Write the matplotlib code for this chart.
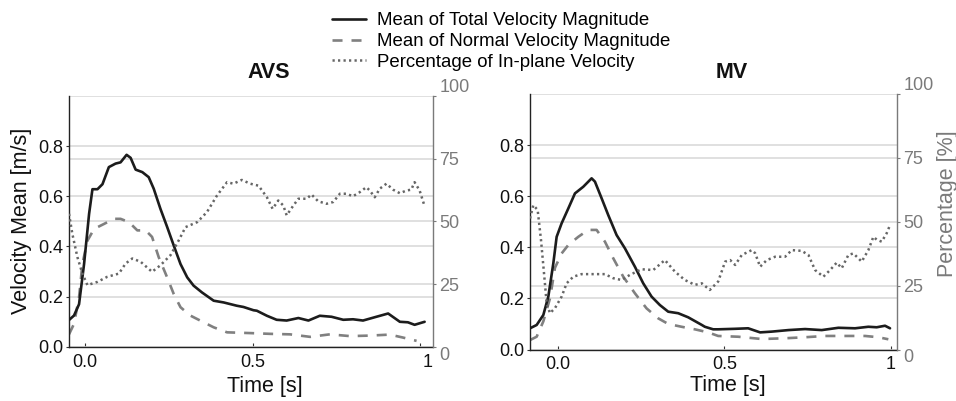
import matplotlib
matplotlib.use("Agg")
import matplotlib.pyplot as plt
import matplotlib.transforms as mtransforms

plt.rcParams['font.family'] = ['Liberation Sans', 'DejaVu Sans']

# ---------------- data ----------------
panel_titles = ["AVS", "MV"]
legend_labels = ["Mean of Total Velocity Magnitude",
                 "Mean of Normal Velocity Magnitude",
                 "Percentage of In-plane Velocity"]
x_ticks = [0.0, 0.5, 1.0]
x_tick_labels = ["0.0", "0.5", "1"]
vel_ticks = [0.0, 0.2, 0.4, 0.6, 0.8]
vel_tick_labels = ["0.0", "0.2", "0.4", "0.6", "0.8"]
pct_ticks = [0, 25, 50, 75, 100]
pct_tick_labels = ["0", "25", "50", "75", "100"]

# AVS
avs_total_t = [-0.048, -0.033, -0.018, -0.003, 0.012, 0.022, 0.037, 0.052, 0.071, 0.091,
               0.106, 0.124, 0.136, 0.151, 0.171, 0.19, 0.205, 0.225, 0.245, 0.265,
               0.285, 0.305, 0.324, 0.349, 0.384, 0.414, 0.453, 0.473, 0.503, 0.513,
               0.543, 0.572, 0.602, 0.637, 0.667, 0.701, 0.736, 0.771, 0.80, 0.83,
               0.87, 0.905, 0.94, 0.964, 0.984, 1.014]
avs_total_v = [0.107, 0.125, 0.17, 0.33, 0.53, 0.628, 0.628, 0.648, 0.716, 0.73,
               0.735, 0.765, 0.753, 0.706, 0.696, 0.676, 0.63, 0.55, 0.478, 0.403,
               0.33, 0.277, 0.244, 0.217, 0.184, 0.177, 0.164, 0.159, 0.146, 0.144,
               0.124, 0.108, 0.105, 0.115, 0.105, 0.124, 0.12, 0.108, 0.11, 0.105,
               0.12, 0.133, 0.10, 0.098, 0.088, 0.10]

avs_normal_t = [-0.048, -0.033, -0.018, -0.008, 0.007, 0.027, 0.057, 0.086, 0.106, 0.131,
                0.156, 0.181, 0.20, 0.22, 0.245, 0.265, 0.285, 0.314, 0.354, 0.384,
                0.424, 0.493, 0.552, 0.612, 0.672, 0.731, 0.791, 0.85, 0.91, 0.95, 0.99]
avs_normal_v = [0.05, 0.092, 0.198, 0.33, 0.423, 0.47, 0.49, 0.51, 0.51, 0.497,
                0.464, 0.464, 0.438, 0.357, 0.277, 0.21, 0.158, 0.125, 0.098, 0.078,
                0.058, 0.055, 0.052, 0.05, 0.04, 0.05, 0.043, 0.045, 0.049, 0.037, 0.024]

avs_pct_t = [-0.048, -0.038, -0.023, -0.008, 0.007, 0.037, 0.066, 0.101, 0.121, 0.141,
             0.166, 0.20, 0.225, 0.255, 0.28, 0.30, 0.335, 0.364, 0.394, 0.424,
             0.443, 0.468, 0.493, 0.518, 0.543, 0.56, 0.577, 0.592, 0.602, 0.622,
             0.637, 0.662, 0.676, 0.696, 0.721, 0.741, 0.761, 0.78, 0.80, 0.82,
             0.84, 0.85, 0.865, 0.88, 0.90, 0.92, 0.94, 0.96, 0.974, 0.984, 0.999, 1.014]
avs_pct_p = [53, 45, 35.8, 29.2, 24.6, 25.9, 27.9, 29.2, 33.2, 35.2,
             33.9, 29.9, 32.5, 36.5, 42.5, 47.7, 49.7, 53.7, 60.3, 65.6,
             65, 66.5, 65, 64.2, 59.6, 55, 58.3, 56.3, 52.4, 56.3,
             59, 59, 60.7, 58, 57, 57.7, 61, 61, 60, 61.6,
             63.6, 62.3, 59.6, 63, 65, 62.6, 61.2, 62.3, 62.6, 65.6, 62.3, 56]

# MV
mv_total_t = [-0.084, -0.064, -0.044, -0.029, -0.014, -0.004, 0.011, 0.031, 0.051, 0.076,
              0.101, 0.111, 0.131, 0.151, 0.176, 0.201, 0.231, 0.256, 0.281, 0.306,
              0.331, 0.361, 0.391, 0.432, 0.441, 0.466, 0.481, 0.532, 0.571, 0.607,
              0.642, 0.692, 0.742, 0.792, 0.842, 0.892, 0.932, 0.957, 0.982, 0.997]
mv_total_v = [0.083, 0.096, 0.135, 0.207, 0.337, 0.441, 0.494, 0.552, 0.611, 0.637,
              0.67, 0.657, 0.592, 0.526, 0.448, 0.396, 0.324, 0.259, 0.207, 0.174,
              0.148, 0.142, 0.126, 0.096, 0.089, 0.079, 0.079, 0.081, 0.083, 0.067,
              0.07, 0.076, 0.08, 0.076, 0.085, 0.083, 0.089, 0.087, 0.093, 0.083]

mv_normal_t = [-0.084, -0.064, -0.044, -0.024, -0.009, 0.011, 0.031, 0.061, 0.091, 0.116,
               0.141, 0.166, 0.196, 0.231, 0.266, 0.301, 0.331, 0.371, 0.411, 0.451,
               0.481, 0.541, 0.612, 0.682, 0.742, 0.802, 0.862, 0.922, 0.962, 0.992]
mv_normal_v = [0.037, 0.05, 0.11, 0.2, 0.32, 0.376, 0.409, 0.441, 0.468, 0.468,
               0.422, 0.357, 0.285, 0.22, 0.161, 0.122, 0.10, 0.089, 0.079, 0.067,
               0.053, 0.05, 0.041, 0.044, 0.048, 0.053, 0.053, 0.053, 0.048, 0.04]

mv_pct_t = [-0.084, -0.074, -0.061, -0.051, -0.041, -0.034, -0.024, -0.009, 0.011, 0.026,
            0.046, 0.071, 0.111, 0.141, 0.166, 0.191, 0.216, 0.251, 0.286, 0.321,
            0.351, 0.381, 0.411, 0.432, 0.456, 0.481, 0.502, 0.517, 0.532, 0.552,
            0.582, 0.592, 0.607, 0.627, 0.652, 0.682, 0.702, 0.732, 0.752, 0.772,
            0.797, 0.817, 0.837, 0.852, 0.872, 0.887, 0.912, 0.932, 0.947, 0.957,
            0.972, 0.987, 0.997]
mv_pct_p = [51.3, 56.5, 54.6, 42.9, 28.5, 18.1, 14.2, 16.2, 20.7, 25.9,
            28.5, 29.5, 29.5, 29.5, 27.9, 27.2, 29.2, 31.4, 31.1, 35,
            30.5, 27.2, 25.3, 25.9, 23.3, 26.6, 34.4, 35, 33.1, 37,
            38.9, 37.7, 32.4, 35, 36.3, 36.3, 38.9, 38.6, 37, 31.1,
            28.5, 31.1, 34, 31.8, 37, 37.6, 34.4, 38.9, 44.1, 43,
            42.2, 45.5, 48.7]

panels = [
    dict(title=panel_titles[0], tot=(avs_total_t, avs_total_v), nor=(avs_normal_t, avs_normal_v),
         pct=(avs_pct_t, avs_pct_p), xlim=(-0.048, 1.039),
         pos=[69/956, 1 - 346.9/401, 364/956, 251.1/401]),
    dict(title=panel_titles[1], tot=(mv_total_t, mv_total_v), nor=(mv_normal_t, mv_normal_v),
         pct=(mv_pct_t, mv_pct_p), xlim=(-0.084, 1.018),
         pos=[530/956, 1 - 349.5/401, 367/956, 255.5/401]),
]

# ---------------- styles ----------------
c_total = '#1c1c1c'
c_normal = '#808080'
c_pct = '#666666'
c_right = '#7a7a7a'
c_grid = '#dadada'
tick_fs = 13
label_fs = 15.5

fig = plt.figure(figsize=(9.56, 4.01), dpi=100)

for i, pnl in enumerate(panels):
    ax = fig.add_axes(pnl['pos'])
    ax.set_xlim(*pnl['xlim'])
    ax.set_ylim(0, 1.0)
    l1, = ax.plot(*pnl['tot'], color=c_total, lw=1.9, solid_capstyle='round', zorder=3)
    l2, = ax.plot(*pnl['nor'], color=c_normal, lw=1.9, dashes=(3.8, 3.4), zorder=2)

    ax.set_yticks(vel_ticks)
    ax.set_yticklabels(vel_tick_labels, fontsize=tick_fs, color='#111111')
    ax.set_yticks([0.25, 0.5, 0.75, 1.0], minor=True)
    ax.grid(axis='y', which='both', color=c_grid, lw=1.2, zorder=0)
    ax.set_axisbelow(True)
    ax.set_xticks(x_ticks)
    ax.set_xticklabels(x_tick_labels, fontsize=tick_fs, color='#111111')
    ax.tick_params(axis='x', direction='in', length=3, width=0.8, pad=5, color='#333333')
    ax.tick_params(axis='y', which='major', direction='out', length=2, width=0.8, pad=2, color='#333333')
    ax.tick_params(axis='y', which='minor', length=0)
    for s in ['top', 'right']:
        ax.spines[s].set_visible(False)
    for s in ['left', 'bottom']:
        ax.spines[s].set_color('#222222')
        ax.spines[s].set_linewidth(1.0)

    if i == 0:
        lab = ax.get_xticklabels()[-1]
        lab.set_transform(lab.get_transform() + mtransforms.ScaledTranslation(8/100, 0, fig.dpi_scale_trans))
        ax.set_ylabel("Velocity Mean [m/s]", fontsize=label_fs, color='#111111')
        ax.yaxis.set_label_coords(-0.1016, 0.5)
        ax.set_xlabel("Time [s]", fontsize=label_fs, color='#111111', va='top')
        ax.xaxis.set_label_coords(0.538, -0.116)
    else:
        ax.set_xlabel("Time [s]", fontsize=label_fs, color='#111111', va='top')
        ax.xaxis.set_label_coords(0.54, -0.10)

    # title baseline ~77 px from the top of the figure
    base_px = 77.5
    top_px = pnl['pos'][1] * 401 + pnl['pos'][3] * 401
    ax.text(0.55, 1 + ((401 - base_px) - top_px) / (pnl['pos'][3] * 401), pnl['title'],
            transform=ax.transAxes, fontsize=15.5, fontweight='bold',
            ha='center', va='baseline', color='#111111')

    ax2 = ax.twinx()
    ax2.set_ylim(0, 100)
    l3, = ax2.plot(*pnl['pct'], color=c_pct, lw=1.8, dashes=(0.9, 1.3), zorder=2)
    ax2.set_yticks(pct_ticks)
    ax2.set_yticklabels(pct_tick_labels, fontsize=tick_fs, color=c_right)
    ylabs = ax2.get_yticklabels()
    ylabs[0].set_va('top')
    ylabs[-1].set_va('bottom')
    ax2.tick_params(axis='y', direction='out', length=2, width=0.8, pad=2.5, color=c_right)
    for s in ['top', 'left', 'bottom']:
        ax2.spines[s].set_visible(False)
    ax2.spines['right'].set_color(c_right)
    ax2.spines['right'].set_linewidth(1.0)
    if i == 1:
        ax2.set_ylabel("Percentage [%]", fontsize=label_fs, color=c_right)
        ax2.yaxis.set_label_coords(1.108, 0.572)

    if i == 0:
        handles = [l1, l2, l3]

fig.legend(handles, legend_labels, loc='center', bbox_to_anchor=(0.524, 1 - 41.5/401),
           frameon=False, fontsize=13.4, handlelength=1.85, handletextpad=0.55,
           labelspacing=0.2, borderpad=0, borderaxespad=0)

fig.savefig("out.png", dpi=100)
